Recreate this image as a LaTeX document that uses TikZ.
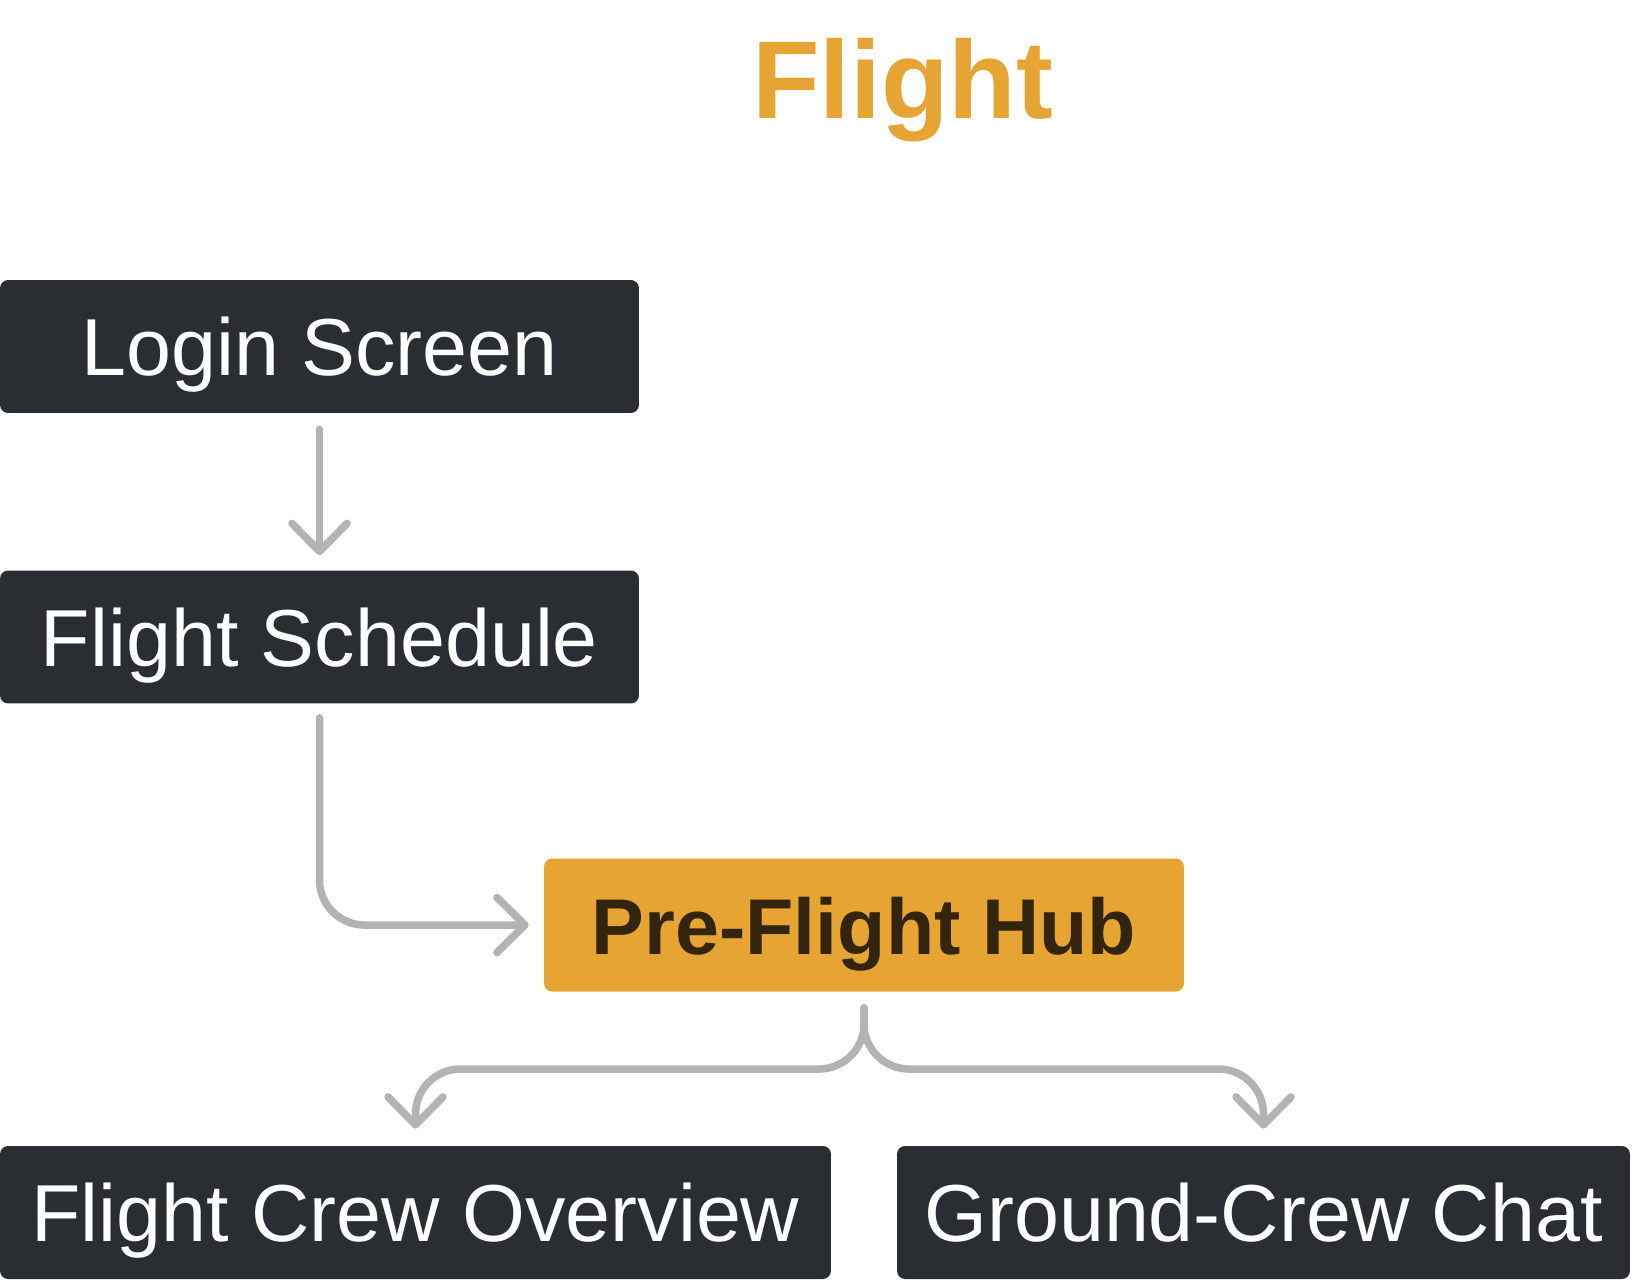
\documentclass[tikz,border=0pt]{standalone}
\usepackage{fontspec}
\setmainfont{Liberation Sans}
\usepackage{xcolor}
\usepackage{tikz}
\usetikzlibrary{arrows.meta,positioning}

\definecolor{boxdark}{HTML}{2A2D31}
\definecolor{hubgold}{HTML}{E6A432}
\definecolor{hubtext}{HTML}{33240D}
\definecolor{flowgray}{HTML}{B3B3B3}

\begin{document}
\begin{tikzpicture}[
x=0.02cm, y=-0.02cm,
box/.style={
    rectangle, rounded corners=0.16cm,
    fill=boxdark, text=white,
    minimum height=2.66cm,
    inner sep=0pt,
    text height=33pt, text depth=0pt,
    font=\fontsize{46}{50}\selectfont
},
hub/.style={
    box, fill=hubgold, text=hubtext,
    font=\fontsize{45}{50}\selectfont\bfseries
},
arr/.style={
    draw=flowgray, line width=0.15cm, line cap=round,
    rounded corners=0.9cm,
    -{Straight Barb[round, length=5.6mm, width=11mm]}
}
]

\useasboundingbox[fill=white] (0,0) rectangle (1632,1281);

% title
\node[anchor=base, inner sep=0pt, font=\fontsize{63}{70}\selectfont\bfseries] (title) at (813.5,118)
    {\textcolor{white}{Pre}\textcolor{hubgold}{Flight}};

% screens
\node[box, minimum width=12.78cm] (login) at (319.5,346.5) {Login Screen};
\node[box, minimum width=12.78cm] (sched) at (319.5,637) {Flight Schedule};
\node[hub, minimum width=12.8cm] (hub) at (864,925) {Pre-Flight Hub};
\node[box, minimum width=16.62cm] (crew) at (415.5,1212.5) {Flight Crew Overview};
\node[box, minimum width=14.66cm] (chat) at (1263.5,1212.5) {Ground-Crew Chat};

\coordinate (fork) at (864,1069);

% flow
\draw[arr, shorten <=0.32cm, shorten >=0.3cm] (login) -- (sched);
\draw[arr, shorten <=0.28cm, shorten >=0.3cm] (sched.south) |- (hub.west);
\draw[arr, shorten <=0.32cm, shorten >=0.34cm] (hub.south) |- (crew.north |- fork) -- (crew.north);
\draw[arr, shorten <=0.32cm, shorten >=0.34cm] (hub.south) |- (chat.north |- fork) -- (chat.north);

\end{tikzpicture}
\end{document}
